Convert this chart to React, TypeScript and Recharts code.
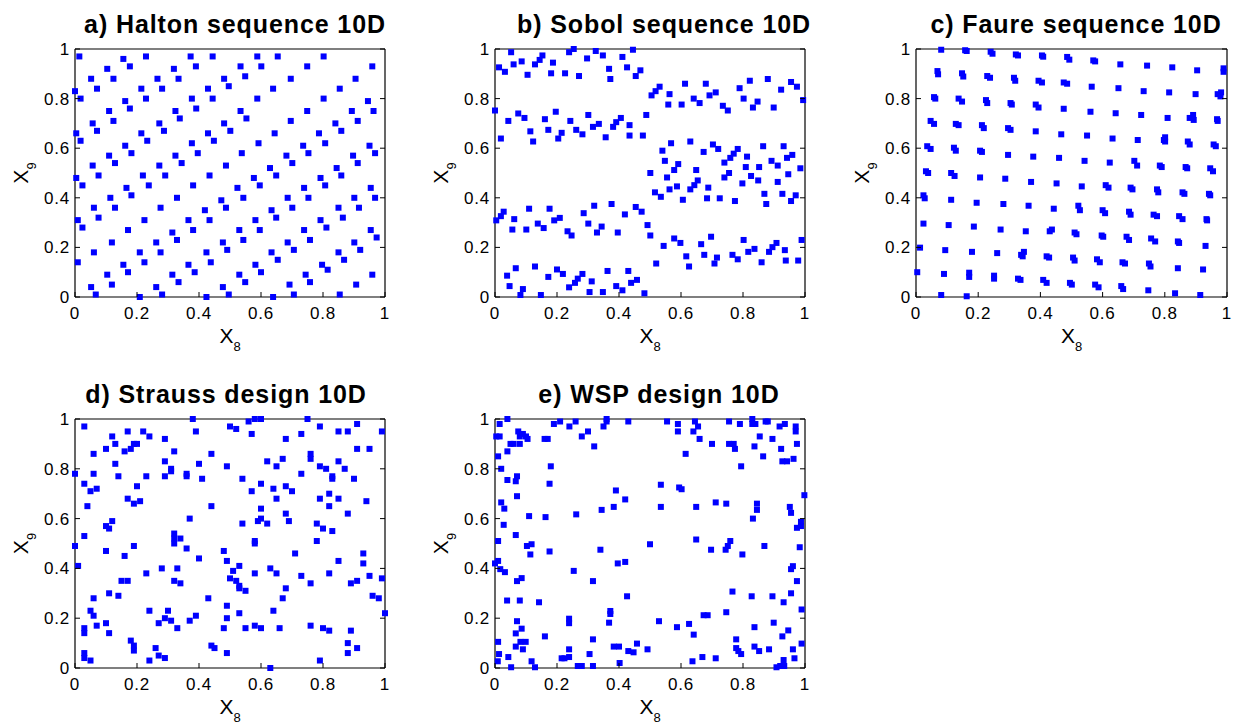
import { ScatterChart, Scatter, XAxis, YAxis } from "recharts";

// values (x8, x9 pairs, unit square)
const ticks = [0, 0.2, 0.4, 0.6, 0.8, 1];

const halton: [number, number][] = [
  [0.014, 0.97], [0.156, 0.96], [0.229, 0.97], [0.373, 0.97], [0.444, 0.97], [0.588, 0.97], [0.654, 0.97], [0.802, 0.97],
  [0.104, 0.92], [0.177, 0.93], [0.319, 0.92], [0.39, 0.93], [0.534, 0.93], [0.601, 0.93], [0.749, 0.93], [0.959, 0.93],
  [0.052, 0.88], [0.124, 0.88], [0.266, 0.88], [0.334, 0.88], [0.481, 0.88], [0.549, 0.89], [0.696, 0.88], [0.905, 0.88],
  [0.0, 0.83], [0.071, 0.84], [0.214, 0.84], [0.281, 0.84], [0.429, 0.84], [0.496, 0.85], [0.639, 0.84], [0.854, 0.84],
  [0.018, 0.8], [0.162, 0.79], [0.229, 0.8], [0.377, 0.8], [0.444, 0.8], [0.588, 0.8], [0.802, 0.8], [0.945, 0.79],
  [0.11, 0.75], [0.177, 0.76], [0.324, 0.75], [0.391, 0.76], [0.534, 0.75], [0.749, 0.75], [0.893, 0.75], [0.963, 0.75],
  [0.057, 0.7], [0.124, 0.71], [0.272, 0.7], [0.338, 0.72], [0.481, 0.7], [0.553, 0.72], [0.696, 0.71], [0.84, 0.7], [0.912, 0.71],
  [0.004, 0.66], [0.071, 0.67], [0.214, 0.66], [0.287, 0.67], [0.429, 0.66], [0.501, 0.67], [0.644, 0.66], [0.787, 0.66], [0.859, 0.67],
  [0.018, 0.63], [0.162, 0.61], [0.233, 0.63], [0.377, 0.62], [0.448, 0.63], [0.592, 0.62], [0.736, 0.61], [0.807, 0.62], [0.95, 0.61],
  [0.11, 0.57], [0.182, 0.58], [0.324, 0.57], [0.396, 0.58], [0.538, 0.58], [0.682, 0.57], [0.753, 0.58], [0.897, 0.57], [0.968, 0.58],
  [0.057, 0.53], [0.129, 0.54], [0.272, 0.53], [0.344, 0.54], [0.487, 0.53], [0.629, 0.52], [0.701, 0.54], [0.844, 0.52], [0.912, 0.54],
  [0.004, 0.48], [0.076, 0.49], [0.219, 0.49], [0.291, 0.49], [0.434, 0.49], [0.577, 0.48], [0.649, 0.49], [0.792, 0.48], [0.859, 0.49],
  [0.024, 0.45], [0.166, 0.44], [0.238, 0.45], [0.381, 0.45], [0.524, 0.44], [0.596, 0.45], [0.739, 0.44], [0.807, 0.45], [0.954, 0.44],
  [0.114, 0.4], [0.182, 0.41], [0.329, 0.4], [0.472, 0.39], [0.543, 0.4], [0.686, 0.4], [0.753, 0.4], [0.901, 0.4], [0.968, 0.4],
  [0.061, 0.36], [0.129, 0.36], [0.276, 0.36], [0.419, 0.35], [0.487, 0.36], [0.634, 0.35], [0.701, 0.36], [0.85, 0.36], [0.916, 0.36],
  [0.009, 0.31], [0.076, 0.32], [0.224, 0.31], [0.366, 0.31], [0.434, 0.31], [0.582, 0.31], [0.649, 0.32], [0.792, 0.31], [0.864, 0.32],
  [0.024, 0.28], [0.171, 0.27], [0.314, 0.26], [0.381, 0.27], [0.53, 0.27], [0.596, 0.27], [0.739, 0.27], [0.811, 0.28], [0.954, 0.27], [0.973, 0.24],
  [0.119, 0.22], [0.262, 0.22], [0.329, 0.23], [0.477, 0.22], [0.543, 0.23], [0.686, 0.22], [0.758, 0.23], [0.901, 0.22],
  [0.061, 0.18], [0.209, 0.18], [0.276, 0.18], [0.424, 0.18], [0.491, 0.19], [0.634, 0.18], [0.706, 0.19], [0.85, 0.18], [0.92, 0.19],
  [0.009, 0.14], [0.224, 0.14], [0.366, 0.13], [0.438, 0.14], [0.582, 0.13], [0.654, 0.15], [0.797, 0.13], [0.868, 0.15],
  [0.156, 0.13], [0.171, 0.1], [0.104, 0.09], [0.314, 0.09], [0.386, 0.1], [0.53, 0.09], [0.6, 0.1], [0.744, 0.09], [0.815, 0.11], [0.959, 0.09],
  [0.052, 0.04], [0.119, 0.05], [0.262, 0.04], [0.334, 0.06], [0.477, 0.04], [0.549, 0.06], [0.692, 0.05], [0.758, 0.06], [0.907, 0.05],
  [0.067, 0.01], [0.209, 0.0], [0.281, 0.01], [0.424, 0.0], [0.496, 0.01], [0.639, 0.0], [0.706, 0.01], [0.854, 0.01],
];

const sobol: [number, number][] = [
  [0.052, 0.987], [0.254, 1.0], [0.239, 0.987], [0.325, 0.992], [0.445, 0.997], [0.153, 0.974], [0.348, 0.974], [0.411, 0.968],
  [0.086, 0.95], [0.144, 0.956], [0.297, 0.962], [0.06, 0.938], [0.129, 0.938], [0.187, 0.945], [0.013, 0.926], [0.032, 0.908],
  [0.105, 0.896], [0.181, 0.902], [0.226, 0.902], [0.271, 0.891], [0.368, 0.92], [0.426, 0.926], [0.469, 0.914], [0.454, 0.891], [0.372, 0.879],
  [0.505, 0.813], [0.518, 0.83], [0.531, 0.848], [0.563, 0.818], [0.613, 0.86], [0.559, 0.776], [0.602, 0.776], [0.641, 0.8],
  [0.66, 0.782], [0.68, 0.86], [0.692, 0.813], [0.712, 0.825], [0.735, 0.771], [0.751, 0.752], [0.789, 0.842], [0.802, 0.8],
  [0.822, 0.872], [0.847, 0.788], [0.832, 0.764], [0.88, 0.879], [0.899, 0.764], [0.923, 0.836], [0.955, 0.867], [0.974, 0.848], [0.994, 0.794],
  [0.0, 0.752], [0.019, 0.639], [0.043, 0.71], [0.075, 0.74], [0.095, 0.722], [0.114, 0.668], [0.123, 0.627], [0.161, 0.717],
  [0.172, 0.674], [0.196, 0.747], [0.204, 0.639], [0.215, 0.662], [0.243, 0.71], [0.262, 0.674], [0.282, 0.656], [0.301, 0.734],
  [0.316, 0.686], [0.335, 0.698], [0.357, 0.644], [0.381, 0.686], [0.391, 0.705], [0.406, 0.722], [0.434, 0.693], [0.434, 0.651], [0.477, 0.651], [0.488, 0.734],
  [0.54, 0.59], [0.568, 0.62], [0.63, 0.627], [0.673, 0.585], [0.703, 0.615], [0.72, 0.597], [0.548, 0.549], [0.591, 0.536],
  [0.578, 0.512], [0.649, 0.512], [0.501, 0.5], [0.555, 0.482], [0.587, 0.446], [0.563, 0.434], [0.516, 0.422], [0.535, 0.404],
  [0.606, 0.392], [0.63, 0.434], [0.643, 0.451], [0.654, 0.47], [0.688, 0.441], [0.684, 0.398], [0.725, 0.398], [0.74, 0.482],
  [0.755, 0.5], [0.74, 0.542], [0.759, 0.561], [0.77, 0.578], [0.783, 0.597], [0.813, 0.566], [0.809, 0.524], [0.798, 0.458],
  [0.826, 0.488], [0.852, 0.524], [0.849, 0.47], [0.774, 0.387], [0.865, 0.608], [0.869, 0.416], [0.875, 0.375], [0.892, 0.549],
  [0.912, 0.53], [0.912, 0.464], [0.931, 0.608], [0.942, 0.561], [0.959, 0.573], [0.946, 0.495], [0.927, 0.416], [0.955, 0.387], [0.97, 0.41], [0.985, 0.519],
  [0.004, 0.309], [0.019, 0.326], [0.028, 0.344], [0.056, 0.272], [0.062, 0.314], [0.101, 0.272], [0.11, 0.356], [0.138, 0.296],
  [0.157, 0.278], [0.176, 0.356], [0.191, 0.309], [0.209, 0.319], [0.234, 0.265], [0.247, 0.248], [0.286, 0.338], [0.301, 0.296],
  [0.32, 0.368], [0.329, 0.26], [0.344, 0.284], [0.376, 0.375], [0.396, 0.26], [0.419, 0.333], [0.454, 0.363], [0.473, 0.344], [0.492, 0.29], [0.501, 0.248],
  [0.52, 0.135], [0.544, 0.206], [0.578, 0.236], [0.598, 0.218], [0.617, 0.164], [0.626, 0.123], [0.665, 0.213], [0.675, 0.17],
  [0.697, 0.243], [0.708, 0.135], [0.716, 0.159], [0.766, 0.17], [0.783, 0.152], [0.802, 0.23], [0.817, 0.182], [0.837, 0.194],
  [0.86, 0.14], [0.884, 0.182], [0.895, 0.201], [0.908, 0.218], [0.935, 0.189], [0.938, 0.147], [0.978, 0.147], [0.989, 0.23],
  [0.039, 0.086], [0.067, 0.116], [0.047, 0.044], [0.09, 0.032], [0.082, 0.008], [0.129, 0.123], [0.148, 0.008], [0.172, 0.081],
  [0.2, 0.111], [0.219, 0.093], [0.239, 0.039], [0.258, 0.057], [0.267, 0.074], [0.282, 0.093], [0.305, 0.02], [0.312, 0.063],
  [0.348, 0.02], [0.363, 0.105], [0.391, 0.044], [0.411, 0.027], [0.43, 0.105], [0.439, 0.057], [0.458, 0.069], [0.482, 0.015],
];

const faure: [number, number][] = [
  [0.081, 0.997], [0.158, 0.995], [0.163, 0.992], [0.24, 0.989], [0.246, 0.981], [0.321, 0.978], [0.328, 0.974], [0.405, 0.974],
  [0.409, 0.969], [0.486, 0.968], [0.493, 0.957], [0.57, 0.954], [0.576, 0.95], [0.657, 0.938], [0.743, 0.933], [0.824, 0.926],
  [0.904, 0.914], [0.989, 0.922], [0.989, 0.908],
  [0.069, 0.911], [0.071, 0.898], [0.148, 0.902], [0.152, 0.889], [0.229, 0.891], [0.238, 0.884], [0.315, 0.884], [0.319, 0.872],
  [0.394, 0.872], [0.405, 0.865], [0.475, 0.865], [0.486, 0.86], [0.565, 0.848], [0.651, 0.842], [0.732, 0.83], [0.814, 0.825],
  [0.899, 0.818], [0.97, 0.818], [0.981, 0.825], [0.979, 0.809],
  [0.058, 0.806], [0.062, 0.8], [0.137, 0.8], [0.148, 0.788], [0.225, 0.794], [0.229, 0.782], [0.304, 0.782], [0.308, 0.776],
  [0.385, 0.776], [0.394, 0.764], [0.475, 0.759], [0.561, 0.747], [0.642, 0.741], [0.724, 0.734], [0.809, 0.722], [0.88, 0.722],
  [0.891, 0.734], [0.893, 0.714], [0.968, 0.717], [0.97, 0.71],
  [0.047, 0.71], [0.058, 0.698], [0.128, 0.698], [0.137, 0.693], [0.212, 0.693], [0.218, 0.681], [0.296, 0.681], [0.304, 0.674],
  [0.385, 0.668], [0.467, 0.656], [0.55, 0.651], [0.632, 0.639], [0.713, 0.633], [0.797, 0.633], [0.801, 0.644], [0.801, 0.627],
  [0.874, 0.627], [0.88, 0.615], [0.957, 0.615], [0.964, 0.608],
  [0.036, 0.608], [0.047, 0.597], [0.122, 0.602], [0.128, 0.59], [0.206, 0.59], [0.212, 0.585], [0.296, 0.573], [0.377, 0.566],
  [0.46, 0.561], [0.542, 0.549], [0.623, 0.542], [0.702, 0.549], [0.711, 0.53], [0.784, 0.53], [0.79, 0.524], [0.867, 0.524],
  [0.872, 0.519], [0.946, 0.519], [0.955, 0.507],
  [0.032, 0.507], [0.039, 0.5], [0.113, 0.5], [0.124, 0.488], [0.206, 0.482], [0.287, 0.477], [0.37, 0.464], [0.452, 0.458],
  [0.533, 0.446], [0.61, 0.451], [0.619, 0.441], [0.69, 0.441], [0.696, 0.434], [0.775, 0.434], [0.779, 0.422], [0.857, 0.422],
  [0.863, 0.416], [0.942, 0.416], [0.946, 0.41],
  [0.024, 0.41], [0.028, 0.398], [0.113, 0.392], [0.195, 0.38], [0.281, 0.375], [0.362, 0.368], [0.443, 0.356], [0.522, 0.368],
  [0.527, 0.35], [0.6, 0.35], [0.608, 0.338], [0.685, 0.344], [0.69, 0.332], [0.764, 0.332], [0.775, 0.326], [0.846, 0.326],
  [0.857, 0.314], [0.934, 0.314], [0.936, 0.309],
  [0.024, 0.296], [0.105, 0.29], [0.186, 0.284], [0.272, 0.272], [0.353, 0.265], [0.43, 0.265], [0.437, 0.272], [0.51, 0.26],
  [0.516, 0.253], [0.597, 0.248], [0.602, 0.243], [0.677, 0.243], [0.685, 0.23], [0.756, 0.236], [0.769, 0.224], [0.842, 0.224],
  [0.846, 0.218], [0.931, 0.206],
  [0.013, 0.199], [0.094, 0.189], [0.18, 0.182], [0.261, 0.177], [0.338, 0.17], [0.347, 0.182], [0.343, 0.164], [0.42, 0.164],
  [0.428, 0.159], [0.505, 0.159], [0.51, 0.147], [0.582, 0.152], [0.591, 0.14], [0.664, 0.14], [0.672, 0.135], [0.749, 0.135],
  [0.754, 0.123], [0.842, 0.116], [0.923, 0.111],
  [0.004, 0.1], [0.09, 0.093], [0.171, 0.098], [0.171, 0.081], [0.251, 0.086], [0.251, 0.074], [0.328, 0.074], [0.336, 0.069],
  [0.409, 0.069], [0.42, 0.057], [0.495, 0.057], [0.501, 0.05], [0.576, 0.05], [0.587, 0.039], [0.66, 0.044], [0.666, 0.032],
  [0.747, 0.027], [0.833, 0.015], [0.914, 0.008],
  [0.081, 0.008], [0.163, 0.003],
];

const strauss: [number, number][] = [
  [0.03, 0.97], [0.12, 0.93], [0.13, 0.9], [0.17, 0.95], [0.22, 0.95], [0.24, 0.93], [0.29, 0.92], [0.38, 1.0], [0.39, 0.95],
  [0.5, 0.97], [0.52, 0.96], [0.56, 0.99], [0.57, 0.94], [0.58, 1.0], [0.6, 1.0], [0.68, 0.92], [0.73, 0.94], [0.75, 1.0],
  [0.79, 0.97], [0.85, 0.95], [0.88, 0.95], [0.91, 0.98], [0.99, 0.95],
  [0.06, 0.86], [0.1, 0.88], [0.16, 0.87], [0.18, 0.88], [0.19, 0.9], [0.2, 0.9], [0.32, 0.87], [0.44, 0.86], [0.13, 0.82],
  [0.29, 0.83], [0.31, 0.8], [0.31, 0.79], [0.4, 0.82], [0.49, 0.81], [0.62, 0.83], [0.65, 0.81], [0.67, 0.84], [0.76, 0.84],
  [0.76, 0.86], [0.79, 0.81], [0.81, 0.8], [0.85, 0.83], [0.87, 0.8], [0.91, 0.88], [0.95, 0.88],
  [0.0, 0.78], [0.06, 0.78], [0.14, 0.77], [0.23, 0.77], [0.29, 0.77], [0.36, 0.78], [0.36, 0.77], [0.41, 0.76], [0.54, 0.76],
  [0.6, 0.74], [0.57, 0.71], [0.64, 0.72], [0.68, 0.73], [0.7, 0.71], [0.65, 0.68], [0.73, 0.78], [0.83, 0.77], [0.83, 0.76],
  [0.9, 0.76], [0.03, 0.74], [0.05, 0.71], [0.07, 0.72], [0.2, 0.73], [0.17, 0.68], [0.19, 0.66], [0.21, 0.67], [0.04, 0.65],
  [0.44, 0.65], [0.79, 0.68], [0.82, 0.65], [0.82, 0.7], [0.85, 0.68], [0.94, 0.67], [0.88, 0.62],
  [0.12, 0.59], [0.1, 0.57], [0.11, 0.56], [0.37, 0.6], [0.54, 0.58], [0.59, 0.59], [0.6, 0.64], [0.6, 0.6], [0.62, 0.58],
  [0.68, 0.62], [0.69, 0.59], [0.78, 0.58], [0.8, 0.56], [0.83, 0.55], [0.03, 0.53], [0.32, 0.54], [0.32, 0.52], [0.34, 0.52],
  [0.32, 0.5], [0.0, 0.49], [0.1, 0.47], [0.19, 0.49], [0.36, 0.48], [0.48, 0.47], [0.58, 0.51], [0.58, 0.5], [0.78, 0.51],
  [0.16, 0.45], [0.4, 0.44], [0.49, 0.43], [0.71, 0.46], [0.85, 0.43], [0.93, 0.46], [0.93, 0.42], [0.01, 0.41],
  [0.28, 0.4], [0.33, 0.4], [0.53, 0.41], [0.51, 0.39], [0.23, 0.38], [0.5, 0.36], [0.52, 0.35], [0.15, 0.35], [0.17, 0.35],
  [0.32, 0.35], [0.34, 0.34], [0.53, 0.33], [0.53, 0.32], [0.55, 0.31], [0.58, 0.38], [0.63, 0.4], [0.65, 0.38], [0.68, 0.32],
  [0.73, 0.37], [0.76, 0.34], [0.82, 0.38], [0.89, 0.34], [0.91, 0.35], [0.95, 0.37], [0.99, 0.36], [0.06, 0.28], [0.11, 0.3],
  [0.14, 0.29], [0.43, 0.28], [0.67, 0.28], [0.96, 0.29], [0.98, 0.28], [1.0, 0.22],
  [0.05, 0.23], [0.06, 0.21], [0.24, 0.23], [0.3, 0.23], [0.49, 0.25], [0.53, 0.22], [0.64, 0.23], [0.03, 0.16], [0.07, 0.17],
  [0.1, 0.18], [0.11, 0.14], [0.27, 0.18], [0.29, 0.2], [0.31, 0.19], [0.33, 0.16], [0.37, 0.19], [0.39, 0.21], [0.49, 0.2],
  [0.48, 0.16], [0.55, 0.16], [0.58, 0.17], [0.6, 0.16], [0.66, 0.16], [0.76, 0.17], [0.8, 0.16], [0.82, 0.15], [0.89, 0.15],
  [0.03, 0.14], [0.18, 0.11], [0.19, 0.09], [0.19, 0.07], [0.44, 0.09], [0.45, 0.08], [0.49, 0.06], [0.26, 0.08], [0.27, 0.05],
  [0.29, 0.04], [0.24, 0.03], [0.03, 0.06], [0.03, 0.04], [0.05, 0.03], [0.88, 0.1], [0.88, 0.06], [0.91, 0.08], [0.79, 0.03],
  [0.63, 0.0],
];

const wsp: [number, number][] = [
  [0.015, 0.98], [0.04, 1.0], [0.004, 0.93], [0.015, 0.93], [0.01, 0.85], [0.02, 0.8], [0.04, 0.87], [0.05, 0.9], [0.06, 0.9],
  [0.075, 0.95], [0.08, 0.93], [0.08, 0.9], [0.09, 0.94], [0.1, 0.93], [0.105, 0.92], [0.16, 0.92], [0.17, 0.92], [0.19, 0.98],
  [0.21, 0.99], [0.24, 0.97], [0.26, 0.99], [0.28, 0.93], [0.3, 0.95], [0.32, 0.89], [0.35, 0.97], [0.36, 1.0], [0.36, 0.99],
  [0.43, 0.99], [0.555, 0.99], [0.59, 0.98], [0.59, 0.95], [0.615, 0.86], [0.64, 0.95], [0.645, 0.99], [0.655, 0.97], [0.66, 0.92],
  [0.7, 0.9], [0.755, 0.99], [0.755, 0.9], [0.77, 0.9], [0.774, 0.88], [0.79, 0.98], [0.794, 0.81], [0.83, 1.0], [0.83, 0.98],
  [0.84, 0.98], [0.837, 0.89], [0.854, 0.93], [0.865, 0.85], [0.873, 0.99], [0.88, 0.99], [0.895, 0.92], [0.918, 0.97],
  [0.923, 0.88], [0.927, 0.83], [0.935, 0.98], [0.942, 0.83], [0.963, 0.84], [0.97, 0.97], [0.97, 0.95], [0.974, 0.9],
  [0.18, 0.81], [0.04, 0.755], [0.067, 0.75], [0.071, 0.77], [0.176, 0.74], [0.071, 0.69], [0.02, 0.665], [0.03, 0.64],
  [0.028, 0.575], [0.11, 0.61], [0.163, 0.606], [0.262, 0.617], [0.344, 0.635], [0.383, 0.647], [0.39, 0.713], [0.42, 0.677],
  [0.535, 0.736], [0.535, 0.647], [0.594, 0.725], [0.602, 0.718], [0.649, 0.647], [0.712, 0.665], [0.746, 0.66], [0.845, 0.66],
  [0.845, 0.635], [0.832, 0.6], [0.951, 0.647], [0.955, 0.623], [0.998, 0.694], [0.987, 0.587], [0.987, 0.57], [0.974, 0.563],
  [0.01, 0.51], [0.067, 0.534], [0.103, 0.49], [0.118, 0.497], [0.114, 0.456], [0.176, 0.468], [0.34, 0.475], [0.5, 0.497],
  [0.649, 0.516], [0.697, 0.475], [0.744, 0.475], [0.751, 0.49], [0.759, 0.51], [0.798, 0.456], [0.869, 0.49], [0.983, 0.485],
  [0.0, 0.42], [0.01, 0.43], [0.017, 0.397], [0.032, 0.385], [0.071, 0.349], [0.086, 0.361], [0.254, 0.39], [0.316, 0.349],
  [0.396, 0.42], [0.42, 0.426], [0.955, 0.397], [0.961, 0.409], [0.974, 0.349],
  [0.039, 0.271], [0.08, 0.271], [0.142, 0.264], [0.426, 0.288], [0.766, 0.307], [0.828, 0.288], [0.895, 0.288], [0.931, 0.264],
  [0.955, 0.3], [0.989, 0.235], [0.071, 0.188], [0.067, 0.139], [0.086, 0.158], [0.01, 0.105], [0.067, 0.086], [0.082, 0.105],
  [0.099, 0.105], [0.09, 0.075], [0.161, 0.127], [0.239, 0.198], [0.239, 0.18], [0.372, 0.229], [0.372, 0.217], [0.368, 0.182],
  [0.529, 0.188], [0.587, 0.164], [0.626, 0.177], [0.641, 0.134], [0.673, 0.212], [0.686, 0.212], [0.746, 0.224], [0.837, 0.164],
  [0.899, 0.182], [0.946, 0.151], [0.927, 0.127], [0.989, 0.098],
  [0.013, 0.056], [0.009, 0.027], [0.043, 0.044], [0.052, 0.003], [0.118, 0.027], [0.129, 0.003], [0.215, 0.039], [0.224, 0.039],
  [0.239, 0.044], [0.239, 0.075], [0.267, 0.008], [0.28, 0.008], [0.305, 0.056], [0.316, 0.115], [0.316, 0.008], [0.383, 0.086],
  [0.4, 0.086], [0.402, 0.02], [0.43, 0.068], [0.447, 0.063], [0.458, 0.098], [0.492, 0.075], [0.637, 0.027], [0.669, 0.044],
  [0.712, 0.039], [0.778, 0.115], [0.778, 0.08], [0.785, 0.068], [0.794, 0.056], [0.837, 0.086], [0.852, 0.068], [0.884, 0.075],
  [0.908, 0.003], [0.92, 0.008], [0.931, 0.032], [0.933, 0.008], [0.961, 0.075], [0.966, 0.039],
];

const panels = [
  { title: "a) Halton sequence 10D", titleX: 235, left: 75, top: 49, w: 310, h: 248, pts: halton },
  { title: "b) Sobol sequence 10D", titleX: 664, left: 495, top: 49, w: 310, h: 248, pts: sobol },
  { title: "c) Faure sequence 10D", titleX: 1076, left: 916, top: 49, w: 311, h: 248, pts: faure },
  { title: "d) Strauss design 10D", titleX: 226, left: 75, top: 419, w: 310, h: 249, pts: strauss },
  { title: "e) WSP design 10D", titleX: 659, left: 495, top: 419, w: 310, h: 249, pts: wsp },
];

const FONT = "'Liberation Sans', Arial, Helvetica, sans-serif";
// chart margin; each axis band is 1px thick, so the plot area starts 1px inside it
const M = { top: 12, right: 14, bottom: 34, left: 42 };
const AX = 1;
const TICK = 5;

const Square = (props: any) => (
  <rect x={props.cx - 3} y={props.cy - 3} width={6} height={6} fill="#0000ff" />
);

const BottomTick = ({ x, y, payload }: any) => (
  <g>
    <line x1={x} x2={x} y1={y} y2={y - TICK} stroke="#000" />
    <text x={x} y={y + 22} textAnchor="middle" fontSize={17} letterSpacing={0.8} fill="#000">
      {String(payload.value)}
    </text>
  </g>
);

const TopTick = ({ x, y }: any) => <line x1={x} x2={x} y1={y} y2={y + TICK} stroke="#000" />;

const LeftTick = ({ x, y, payload }: any) => (
  <g>
    <line x1={x} x2={x + TICK} y1={y} y2={y} stroke="#000" />
    <text x={x - 5} y={y + 6} textAnchor="end" fontSize={17} letterSpacing={0.8} fill="#000">
      {String(payload.value)}
    </text>
  </g>
);

const RightTick = ({ x, y }: any) => <line x1={x} x2={x - TICK} y1={y} y2={y} stroke="#000" />;

const axisCommon = {
  type: "number" as const,
  domain: [0, 1],
  ticks,
  interval: 0 as const,
  tickSize: 0,
  tickMargin: 0,
  tickLine: false,
  axisLine: { stroke: "#000", strokeWidth: 1.2 },
};

const Panel = ({ p }: { p: (typeof panels)[number] }) => {
  const data = p.pts.map(([x, y]) => ({ x, y }));
  return (
    <div style={{ position: "absolute", left: p.left - M.left - AX, top: p.top - M.top - AX }}>
      <ScatterChart
        width={p.w + M.left + M.right + 2 * AX}
        height={p.h + M.top + M.bottom + 2 * AX}
        margin={M}
      >
        <XAxis {...axisCommon} dataKey="x" height={AX} tick={BottomTick} />
        <XAxis {...axisCommon} xAxisId="top" orientation="top" height={AX} tick={TopTick} allowDataOverflow />
        <YAxis {...axisCommon} dataKey="y" width={AX} tick={LeftTick} />
        <YAxis {...axisCommon} yAxisId="right" orientation="right" width={AX} tick={RightTick} allowDataOverflow />
        <Scatter data={data} shape={Square} fill="#0000ff" isAnimationActive={false} />
      </ScatterChart>
    </div>
  );
};

export default function App() {
  return (
    <div
      style={{
        position: "absolute",
        left: 0,
        top: 0,
        width: 1234,
        height: 725,
        background: "#fff",
        fontFamily: FONT,
        overflow: "hidden",
      }}
    >
      {panels.map((p) => (
        <Panel key={p.title} p={p} />
      ))}
      <svg
        width={1234}
        height={725}
        style={{ position: "absolute", left: 0, top: 0, pointerEvents: "none" }}
        fontFamily={FONT}
      >
        {panels.map((p) => {
          const cx = p.left + p.w / 2;
          const cy = p.top + p.h / 2;
          return (
            <g key={p.title}>
              <text x={p.titleX} y={p.top - 16} textAnchor="middle" fontSize={25} fontWeight="bold" letterSpacing={0.9}>
                {p.title}
              </text>
              <text x={cx} y={p.top + p.h + 46} textAnchor="middle" fontSize={21}>
                X<tspan fontSize={13} dy={8}>8</tspan>
              </text>
              <text
                transform={`translate(${p.left - 47}, ${cy}) rotate(-90)`}
                textAnchor="middle"
                fontSize={21}
              >
                X<tspan fontSize={13} dy={8}>9</tspan>
              </text>
            </g>
          );
        })}
      </svg>
    </div>
  );
}
